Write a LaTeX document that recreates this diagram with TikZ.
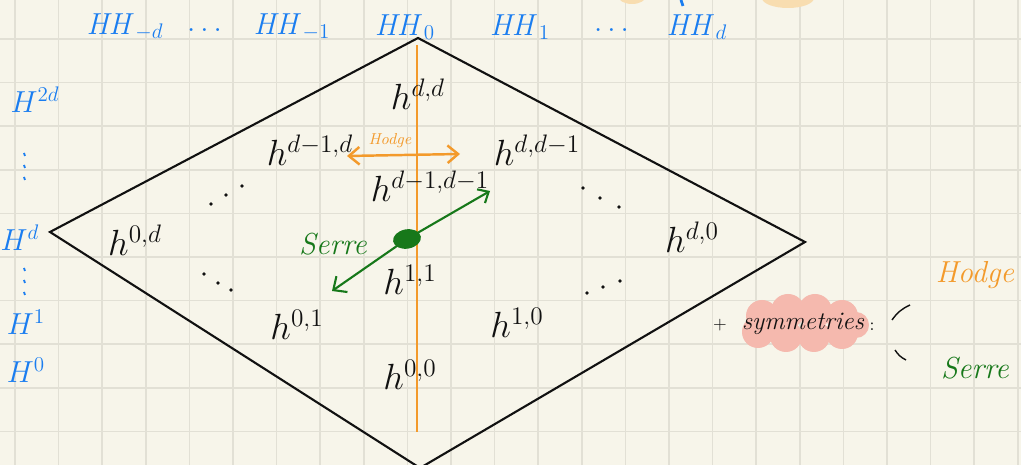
\documentclass[tikz,border=0pt]{standalone}
\usepackage{amsmath,amssymb}
\usepackage{tikz}
\usetikzlibrary{arrows.meta,calc,shapes.geometric}
\definecolor{paperC}{HTML}{F7F5EA}
\definecolor{gridC}{HTML}{E2E0D5}
\definecolor{blueH}{HTML}{1A7DF0}
\definecolor{orangeH}{HTML}{F39A2B}
\definecolor{greenS}{HTML}{17781A}
\definecolor{pinkS}{HTML}{F5B9AE}
\definecolor{peachC}{HTML}{F8DDB0}
\definecolor{inkD}{HTML}{111111}

\begin{document}
\begin{tikzpicture}[x=0.02cm,y=-0.02cm,>=Stealth,
    hval/.style={inkD,font=\fontsize{22}{26}\selectfont},
    hhlab/.style={blueH,font=\LARGE},
    hlab/.style={blueH,font=\LARGE}]
  % paper and grid
  \fill[paperC] (0,0) rectangle (1021,465);
  \useasboundingbox (0,0) rectangle (1021,465);
  \foreach \i in {0,...,23}
    \draw[gridC,line width=1pt] ({15+43.6*\i},0) -- ({15+43.6*\i},465);
  \foreach \j in {0,...,9}
    \draw[gridC,line width=1pt] (0,{39+43.6*\j}) -- (1021,{39+43.6*\j});
  % cut-off marks at the top edge
  \fill[peachC] (632,-4) ellipse (14 and 8);
  \fill[peachC] (788,-2) ellipse (26 and 10);
  \draw[blueH,line width=1.6pt] (681,0) -- (683,6);

  % the diamond
  \coordinate (top) at (418,38);
  \coordinate (left) at (50,232);
  \coordinate (right) at (805,242);
  \coordinate (bot) at (420,468);
  \draw[inkD,line width=1.2pt] (top) -- (right) -- (bot) -- (left) -- cycle;

  % symmetry axis
  \coordinate (axtop) at (417,45);
  \coordinate (axbot) at (417,432);
  \draw[orangeH,line width=1.2pt] (axtop) -- (axbot);

  % Hodge numbers
  \node[hval] (hdd)   at (418,94)  {$h^{d,d}$};
  \node[hval] (hd1d)  at (310,150) {$h^{d-1,d}$};
  \node[hval] (hdd1)  at (537,150) {$h^{d,d-1}$};
  \node[hval] (hd1d1) at (430,186) {$h^{d-1,d-1}$};
  \node[hval] (h0d)   at (135,240) {$h^{0,d}$};
  \node[hval] (hd0)   at (692,237) {$h^{d,0}$};
  \node[hval] (h11)   at (410,280) {$h^{1,1}$};
  \node[hval] (h01)   at (297,325) {$h^{0,1}$};
  \node[hval] (h10)   at (517,323) {$h^{1,0}$};
  \node[hval] (h00)   at (410,375) {$h^{0,0}$};
  % diagonal dots
  \foreach \x/\y in {211/204,226/195,242/186, 583/188,600/198,619/207,
                     204/274,218/283,231/290, 587/293,603/287,620/281}
    \fill[inkD] (\x,\y) circle (1.8);

  % Hodge symmetry arrow
  \coordinate (hgl) at (347,156);
  \coordinate (hgr) at (460,154);
  \draw[orangeH,line width=1.4pt,{Straight Barb[length=6pt,width=10pt]}-{Straight Barb[length=6pt,width=10pt]}] (hgl) -- (hgr);
  \node[orangeH,font=\small\itshape] (hodgelab) at (390,141) {Hodge};

  % Serre symmetry arrow
  \coordinate (srup) at (490,191);
  \coordinate (srlo) at (332,291);
  \node[fill=greenS,ellipse,inner sep=0pt,minimum width=16pt,minimum height=11pt,rotate=10] (blob) at (407,239) {};
  \draw[greenS,line width=1.2pt,-{Straight Barb[length=5pt,width=9pt]}] (blob.center) -- (srup);
  \draw[greenS,line width=1.2pt,-{Straight Barb[length=6pt,width=11pt]}] (blob.center) -- (srlo);
  \node[greenS,font=\LARGE\itshape] (serrelab) at (333,244) {Serre};

  % cohomological degrees
  \node[hlab] (H2d) at (35,100) {$H^{2d}$};
  \node[hlab] (Hd)  at (20,238) {$H^{d}$};
  \node[hlab] (H1)  at (26,322) {$H^{1}$};
  \node[hlab] (H0)  at (26,370) {$H^{0}$};
  \foreach \y in {153,165,177,268,280,292}
    \draw[blueH,line width=1pt] (24,\y) -- (25,\y+3);

  % Hochschild homology
  \node[hhlab] (HHmd) at (125,27) {$\mathit{HH}_{-d}$};
  \node[hhlab] (dl)   at (207,30) {$\dots$};
  \node[hhlab] (HHm1) at (292,27) {$\mathit{HH}_{-1}$};
  \node[hhlab] (HH0)  at (405,27) {$\mathit{HH}_{0}$};
  \node[hhlab] (HH1)  at (520,27) {$\mathit{HH}_{1}$};
  \node[hhlab] (dr)   at (614,30) {$\dots$};
  \node[hhlab] (HHd)  at (697,27) {$\mathit{HH}_{d}$};

  % symmetries
  \node[inkD] (plus) at (720,325) {$+$};
  \foreach \cx/\cy/\r in {762/316/16,788/311/17,815/311/17,842/316/16,856/325/13,
                          758/332/16,786/336/16,814/336/16,842/333/16}
    \fill[pinkS] (\cx,\cy) circle (\r);
  \node[inkD,font=\Large\itshape] (sym) at (803,324) {symmetries};
  \node[inkD] (colon) at (872,327) {:};
  \draw[inkD,line width=0.8pt] (910,305) to[bend right=15] (892,320);
  \draw[inkD,line width=0.8pt] (895,350) to[bend right=15] (906,360);
  \node[orangeH,font=\LARGE\itshape] (hodgeR) at (975,275) {Hodge};
  \node[greenS,font=\LARGE\itshape] (serreR) at (975,368) {Serre};
\end{tikzpicture}
\end{document}
